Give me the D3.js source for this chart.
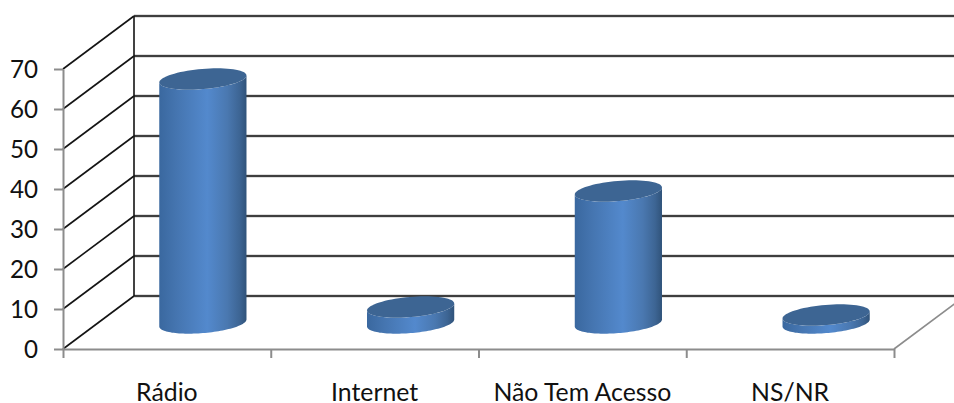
<!DOCTYPE html>
<html><head><meta charset="utf-8">
<script src="https://cdn.jsdelivr.net/npm/d3@7"></script>
<style>html,body{margin:0;padding:0;background:#fff;overflow:hidden}svg{display:block}
text{font-family:Lato,"Open Sans",sans-serif;fill:#111}</style></head><body>
<svg id="c" width="954" height="403"></svg>
<script>
const categories = ["Rádio","Internet","Não Tem Acesso","NS/NR"];
const values = [61,4,33,2];
const yTicks = [0,10,20,30,40,50,60,70];

const svg = d3.select("#c");
const x = d3.scaleBand().domain(categories).range([63,894]);
const y = d3.scaleLinear().domain([0,70]).range([349,69]);
const depth = {dx:71, dy:-53};
const grey = "#8c8c8c", black = "#141414";

const defs = svg.append("defs");
const g = defs.append("linearGradient").attr("id","body").attr("x1",0).attr("x2",1).attr("y1",0).attr("y2",0);
[[0,"#3a689f"],[0.2,"#4575b0"],[0.55,"#5389cd"],[0.78,"#4a78b0"],[0.92,"#3d6594"],[1,"#30537a"]]
  .forEach(s=>g.append("stop").attr("offset",s[0]).attr("stop-color",s[1]));

// walls
const wall = svg.append("g").attr("fill","none");
const right = 954;
yTicks.forEach(v=>{
  const px = y(v), bx = 63+depth.dx, by = px+depth.dy;
  wall.append("path").attr("d",`M63,${px}L${bx},${by}`).attr("stroke",black).attr("stroke-width",1.6);
  wall.append("path").attr("d",`M${bx},${by}L${right},${by}`).attr("stroke","#bdbdbd").attr("stroke-width",3);
  wall.append("path").attr("d",`M${bx},${by}L${right},${by}`).attr("stroke",black).attr("stroke-width",1.6);
});
wall.append("path").attr("d",`M${63+depth.dx},${y(70)+depth.dy}V${y(0)+depth.dy}`).attr("stroke",black).attr("stroke-width",1.6);
wall.append("path").attr("d",`M894,${y(0)}L${894+depth.dx},${y(0)+depth.dy}`).attr("stroke",grey).attr("stroke-width",1.6);

// axes
const axX = svg.append("g").attr("transform",`translate(0,${y(0)})`)
  .call(d3.axisBottom(x).tickSize(0).tickPadding(34));
axX.select(".domain").attr("stroke",grey).attr("stroke-width",2);
axX.selectAll("text").attr("font-size",24.8).attr("fill","#111");
const edges = d3.scaleLinear().domain([0,categories.length]).range(x.range());
svg.append("g").attr("transform",`translate(0,${y(0)})`)
  .call(d3.axisBottom(edges).ticks(categories.length).tickSize(9).tickFormat(""))
  .call(s=>s.select(".domain").remove())
  .selectAll("line").attr("stroke",grey).attr("stroke-width",2);
const axY = svg.append("g").attr("transform","translate(63,0)")
  .call(d3.axisLeft(y).tickValues(yTicks).tickSize(9).tickPadding(16).tickSizeOuter(0));
axY.select(".domain").attr("stroke",grey).attr("stroke-width",2);
axY.selectAll("line").attr("stroke",grey).attr("stroke-width",2);
axY.selectAll("text").attr("font-size",24.2).attr("fill","#111").attr("dy","0.36em");

// cylinders
const ux = 41.2, vx = 14.3, vy = -10.7;
const hw = Math.hypot(ux,vx), t0 = Math.atan2(vx,ux);
const pt = (cx,cy,t)=>[cx+ux*Math.cos(t)+vx*Math.sin(t), cy+vy*Math.sin(t)];
const line = d3.line();
const bars = svg.append("g");
categories.forEach((c,i)=>{
  const cx = x(c)+x.bandwidth()/2+depth.dx/2+0.5;
  const base = y(0)+depth.dy/2+0.5;
  const top = y(values[i])+depth.dy/2+0.5;
  const arcT = d3.range(0,61).map(k=>t0 - k/60*Math.PI); // right tangent, under the front, to left tangent
  const bottomArc = arcT.map(t=>pt(cx,base,t));
  const topEdge = arcT.slice().reverse().map(t=>pt(cx,top,t));
  bars.append("path").attr("d",line(bottomArc.concat(topEdge))+"Z").attr("fill","url(#body)");
  const cap = d3.range(0,72).map(k=>pt(cx,top,k/72*2*Math.PI));
  bars.append("path").attr("d",line(cap)+"Z").attr("fill","#3d6593");
});
</script></body></html>
